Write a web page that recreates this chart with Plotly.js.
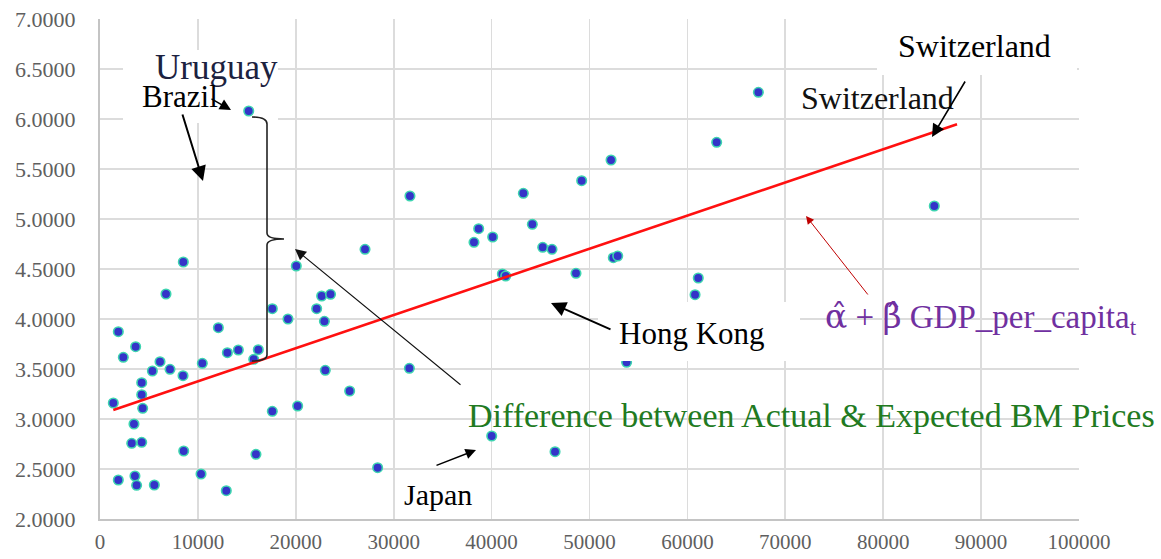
<!DOCTYPE html>
<html>
<head>
<meta charset="utf-8">
<script src="https://cdn.plot.ly/plotly-3.0.1.min.js"></script>
<style>html,body{margin:0;padding:0;background:#fff;}#chart{width:1161px;height:559px;}</style>
</head>
<body>
<div id="chart"></div>
<script>
// GDP per capita (x) and Big Mac price (y)
const gdpPerCapita = [15190, 8510, 6740, 1870, 3640, 2380, 12090, 13010, 14130, 16170,
  15700, 10450, 6130, 5350, 7150, 8480, 4260, 4260, 4360, 1360,
  3470, 3240, 4260, 8550, 15930, 1870, 3570, 3740, 5550, 10320,
  12900, 17600, 19200, 20050, 17600, 20190, 27070, 31660, 38680, 38200,
  40110, 22640, 23550, 22130, 22920, 23010, 31600, 25500, 40010, 28360,
  62990, 52200, 49200, 43240, 44160, 45220, 46170, 52430, 52880, 41100,
  41440, 48620, 61110, 60780, 53790, 46480, 67250, 85220];
const bmPrice = [6.08, 4.57, 4.25, 3.873, 3.723, 3.617, 3.913, 3.663, 3.69, 3.693,
  3.597, 3.557, 3.573, 3.48, 3.497, 3.433, 3.363, 3.243, 3.107, 3.16,
  2.95, 2.757, 2.767, 2.68, 2.647, 2.39, 2.43, 2.337, 2.34, 2.45,
  2.283, 4.103, 4.00, 4.53, 3.077, 3.13, 4.697, 5.23, 4.903, 4.767,
  4.82, 4.23, 4.247, 4.103, 3.977, 3.487, 3.507, 3.28, 2.83, 2.513,
  5.767, 5.59, 5.383, 5.257, 4.947, 4.717, 4.697, 4.613, 4.63, 4.45,
  4.43, 4.457, 4.41, 4.243, 3.567, 2.673, 6.267, 5.13];
// fitted line end points
const trendX = [1360, 87540];
const trendY = [3.09, 5.947];
const xTicks = [0, 10000, 20000, 30000, 40000, 50000, 60000, 70000, 80000, 90000, 100000];
const yTicks = [2, 2.5, 3, 3.5, 4, 4.5, 5, 5.5, 6, 6.5, 7];

const L = 100, R = 82, T = 19, B = 40, W = 1161, H = 559;
const PW = W - L - R, PH = H - T - B;
const X = px => (px - L) / PW * 100000;
const Y = py => 7 - (py - T) / PH * 5;

const serif = 'Liberation Serif, Times New Roman, serif';

function label(text, cx, cy, size, color) {
  return {x: X(cx), y: Y(cy), xref: 'x', yref: 'y', text: text, showarrow: false,
    xanchor: 'center', yanchor: 'middle', font: {family: serif, size: size, color: color}};
}
function arrow(hx, hy, tx, ty, width, color, size) {
  return {x: X(hx), y: Y(hy), xref: 'x', yref: 'y', text: '', showarrow: true,
    ax: tx - hx, ay: ty - hy, axref: 'pixel', ayref: 'pixel',
    arrowhead: 2, arrowsize: size, arrowwidth: width, arrowcolor: color, standoff: 0, startstandoff: 0};
}

const traces = [
  {x: gdpPerCapita, y: bmPrice, type: 'scatter', mode: 'markers', cliponaxis: false,
   marker: {size: 9.5, color: '#3434c8', line: {color: '#3dd4b0', width: 1.6}}, hoverinfo: 'x+y'},
  {x: trendX, y: trendY, type: 'scatter', mode: 'lines', line: {color: '#ff1010', width: 2.6}, hoverinfo: 'skip'}
];

const rect = (x0, y0, x1, y1, layer) => ({type: 'rect', xref: 'x', yref: 'y', x0: X(x0), x1: X(x1), y0: Y(y0), y1: Y(y1),
  fillcolor: '#ffffff', line: {width: 0}, layer: layer});

const brace = 'M ' + X(252) + ',' + Y(117) + ' Q ' + X(267) + ',' + Y(117) + ' ' + X(267) + ',' + Y(124) +
  ' L ' + X(267) + ',' + Y(233) + ' Q ' + X(267) + ',' + Y(239) + ' ' + X(284) + ',' + Y(239) +
  ' Q ' + X(267) + ',' + Y(239) + ' ' + X(267) + ',' + Y(245) +
  ' L ' + X(267) + ',' + Y(355) + ' Q ' + X(267) + ',' + Y(361) + ' ' + X(252) + ',' + Y(361);

const hat = s => '<span style="font-family:DejaVu Serif">' + s + '\u0302</span>';

const layout = {
  width: W, height: H, margin: {l: L, r: R, t: T, b: B},
  paper_bgcolor: '#ffffff', plot_bgcolor: '#ffffff', showlegend: false,
  xaxis: {range: [0, 100000], tickvals: xTicks, ticktext: xTicks.map(v => String(v)), showgrid: true,
    gridcolor: '#dcdcdc', gridwidth: 1.6, zeroline: false, showline: true, linecolor: '#c4c4c4', linewidth: 2,
    ticks: '', ticklabelstandoff: 3, tickfont: {family: serif, size: 21, color: '#5f5f5f'}},
  yaxis: {range: [2, 7], tickvals: yTicks, ticktext: yTicks.map(v => v.toFixed(4)), showgrid: true,
    gridcolor: '#dcdcdc', gridwidth: 1.6, zeroline: false, showline: true, linecolor: '#c4c4c4', linewidth: 2,
    ticks: '', ticklabelstandoff: 18, tickfont: {family: serif, size: 22, color: '#5f5f5f'}},
  shapes: [
    rect(123, 50, 278, 123, 'between'),
    rect(598, 302, 800, 361, 'above'),
    rect(877, 0, 1077, 75, 'above'),
    {type: 'path', xref: 'x', yref: 'y', path: brace, line: {color: '#222222', width: 1.6}, layer: 'above'}
  ],
  annotations: [
    label('Uruguay', 216, 67, 35, '#1c2240'),
    label('Brazil', 180, 96, 31, '#000000'),
    label('Switzerland', 974, 46, 32, '#000000'),
    label('Switzerland', 877, 98, 32, '#111111'),
    label('Hong Kong', 692, 333, 31, '#000000'),
    label('Japan', 438, 494, 30, '#000000'),
    label('Difference between Actual &amp; Expected BM Prices', 811, 415, 34, '#217a21'),
    label(hat('α') + ' + ' + hat('β') + ' GDP_per_capita<sub>t</sub>', 981, 318, 33, '#7030a0'),
    arrow(203, 181, 182, 113, 2, '#000000', 1.5),
    arrow(231, 110, 210, 98, 1.5, '#000000', 1.5),
    arrow(551, 303, 612, 330, 2, '#000000', 1.5),
    arrow(932, 137, 966, 80, 1.6, '#000000', 1.6),
    arrow(295, 249, 462, 386, 1.1, '#111111', 2),
    arrow(476, 450, 435, 466, 1.5, '#000000', 1.4),
    arrow(806, 216, 869, 296, 1, '#c00000', 1.6)
  ]
};

Plotly.newPlot('chart', traces, layout, {staticPlot: true, displayModeBar: false});
</script>
</body>
</html>
